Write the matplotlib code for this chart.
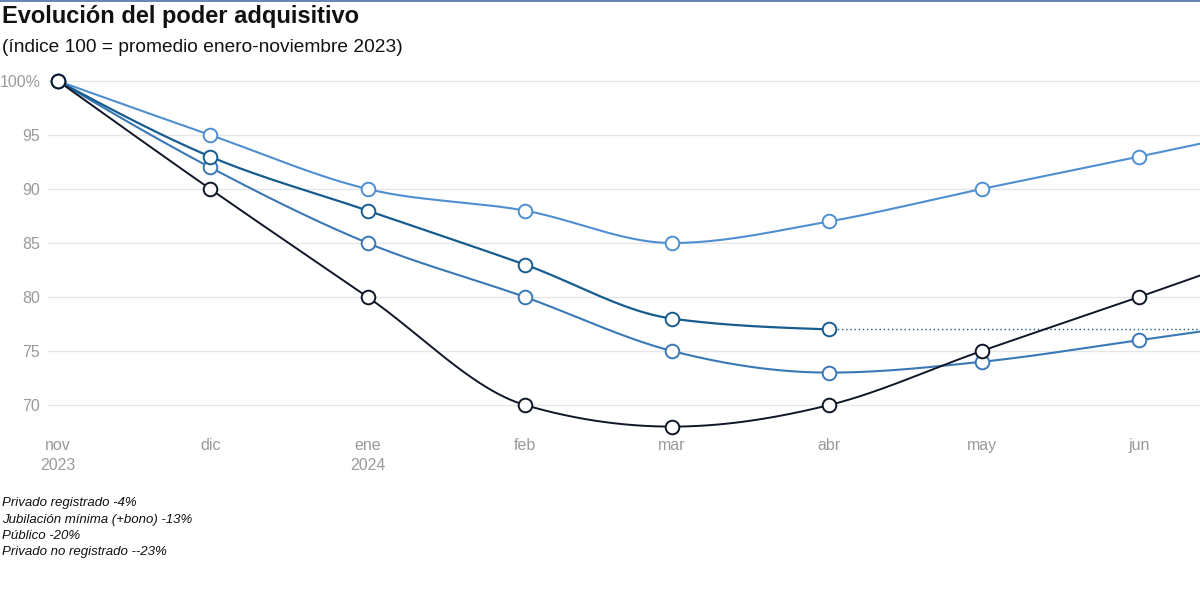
import numpy as np
import matplotlib
matplotlib.use('Agg')
import matplotlib.pyplot as plt
from matplotlib.lines import Line2D

# data
months = ['2023-11', '2023-12', '2024-01', '2024-02', '2024-03',
          '2024-04', '2024-05', '2024-06', '2024-07']
tick_labels = ['nov\n2023', 'dic', 'ene\n2024', 'feb', 'mar', 'abr', 'may', 'jun']

privado_registrado = [100, 95, 90, 88, 85, 87, 90, 93, 96]
jubilacion_minima = [100, 93, 88, 83, 78, 77]
publico = [100, 92, 85, 80, 75, 73, 74, 76, 78]
privado_no_registrado = [100, 90, 80, 70, 68, 70, 75, 80, 85]

legend_lines = ['Privado registrado -4%',
                'Jubilación mínima (+bono) -13%',
                'Público -20%',
                'Privado no registrado --23%']

c_light = '#4f8fd0'
c_mid = '#3a78b5'
c_dark = '#175c8e'
c_black = '#0f1628'

days = (np.array(months, dtype='datetime64[M]').astype('datetime64[D]')
        - np.datetime64('2023-11-01')).astype(float)


def monotone_curve(x, y, n=60):
    # monotone cubic, like d3.curveMonotoneX
    x = np.asarray(x, float)
    y = np.asarray(y, float)
    h = np.diff(x)
    s = np.diff(y) / h
    m = np.zeros(len(x))
    for i in range(1, len(x) - 1):
        p = (s[i - 1] * h[i] + s[i] * h[i - 1]) / (h[i - 1] + h[i])
        m[i] = (np.sign(s[i - 1]) + np.sign(s[i])) * min(abs(s[i - 1]), abs(s[i]), 0.5 * abs(p))
    m[0] = (3 * s[0] - m[1]) / 2 if len(x) > 2 else s[0]
    m[-1] = (3 * s[-1] - m[-2]) / 2 if len(x) > 2 else s[-1]
    xs, ys = [], []
    for i in range(len(x) - 1):
        t = np.linspace(0, 1, n)
        h00 = 2 * t**3 - 3 * t**2 + 1
        h10 = t**3 - 2 * t**2 + t
        h01 = -2 * t**3 + 3 * t**2
        h11 = t**3 - t**2
        xs.append(x[i] + t * h[i])
        ys.append(h00 * y[i] + h10 * h[i] * m[i] + h01 * y[i + 1] + h11 * h[i] * m[i + 1])
    return np.concatenate(xs), np.concatenate(ys)


fig = plt.figure(figsize=(12, 5.93), dpi=100)
ax = fig.add_axes([48 / 1200, 1 - 430 / 593, 1 - 48 / 1200, (430 - 65) / 593])

# top border line
fig.add_artist(Line2D([0, 1], [0.999, 0.999], transform=fig.transFigure,
                      color='#4a6fa5', lw=1.2))

series = [
    (privado_registrado, c_light, 1.5),
    (publico, c_mid, 1.5),
    (jubilacion_minima, c_dark, 1.6),
    (privado_no_registrado, c_black, 1.4),
]

px_per_day = (1139 - 58) / days[7]
xmax = (1200 - 58) / px_per_day

# dotted continuation of the last value of jubilación
last = len(jubilacion_minima) - 1
ax.plot([days[last], xmax + 5], [jubilacion_minima[-1]] * 2, color=c_dark, lw=1,
        ls=(0, (1, 2)), zorder=2)

for vals, col, lw in series:
    xd = days[:len(vals)]
    cx, cy = monotone_curve(xd, vals)
    ax.plot(cx, cy, color=col, lw=lw, zorder=3, solid_capstyle='round')
    ax.plot(xd[:8], vals[:8], ls='none', marker='o', ms=9.8, mfc='white', mec=col,
            mew=1.4, zorder=4, clip_on=False)

ax.set_xlim(-10 / px_per_day, xmax)
ax.set_ylim(100 - (430 - 81) / 10.8, 100 + (81 - 65) / 10.8)

ax.set_yticks([70, 75, 80, 85, 90, 95, 100])
ax.set_yticklabels(['70', '75', '80', '85', '90', '95', '100%'])
ax.set_xticks(days[:8])
ax.set_xticklabels(tick_labels, linespacing=1.35)
ax.tick_params(axis='both', length=0, labelcolor='#9a9a9a', labelsize=11.5)
ax.tick_params(axis='y', pad=5.5)
ax.tick_params(axis='x', pad=6)
for lab in ax.get_xticklabels() + ax.get_yticklabels():
    lab.set_family(['Liberation Sans', 'DejaVu Sans'])

ax.grid(axis='y', color='#e6e6e6', lw=1)
ax.set_axisbelow(True)
for sp in ax.spines.values():
    sp.set_visible(False)

fig.text(2 / 1200, 1 - 17 / 593, 'Evolución del poder adquisitivo', fontsize=17,
         fontweight='bold', color='#111111', va='center', ha='left',
         family=['Liberation Sans', 'DejaVu Sans'])
fig.text(2 / 1200, 1 - 47 / 593, '(índice 100 = promedio enero-noviembre 2023)', fontsize=13.8,
         color='#111111', va='center', ha='left',
         family=['Liberation Sans', 'DejaVu Sans'])

for i, txt in enumerate(legend_lines):
    fig.text(2 / 1200, 1 - (503 + i * 16.5) / 593, txt, fontsize=9.5, style='italic',
             color='#111111', va='center', ha='left',
             family=['Liberation Sans', 'DejaVu Sans'])

fig.savefig('out.png', dpi=100, facecolor='white')
